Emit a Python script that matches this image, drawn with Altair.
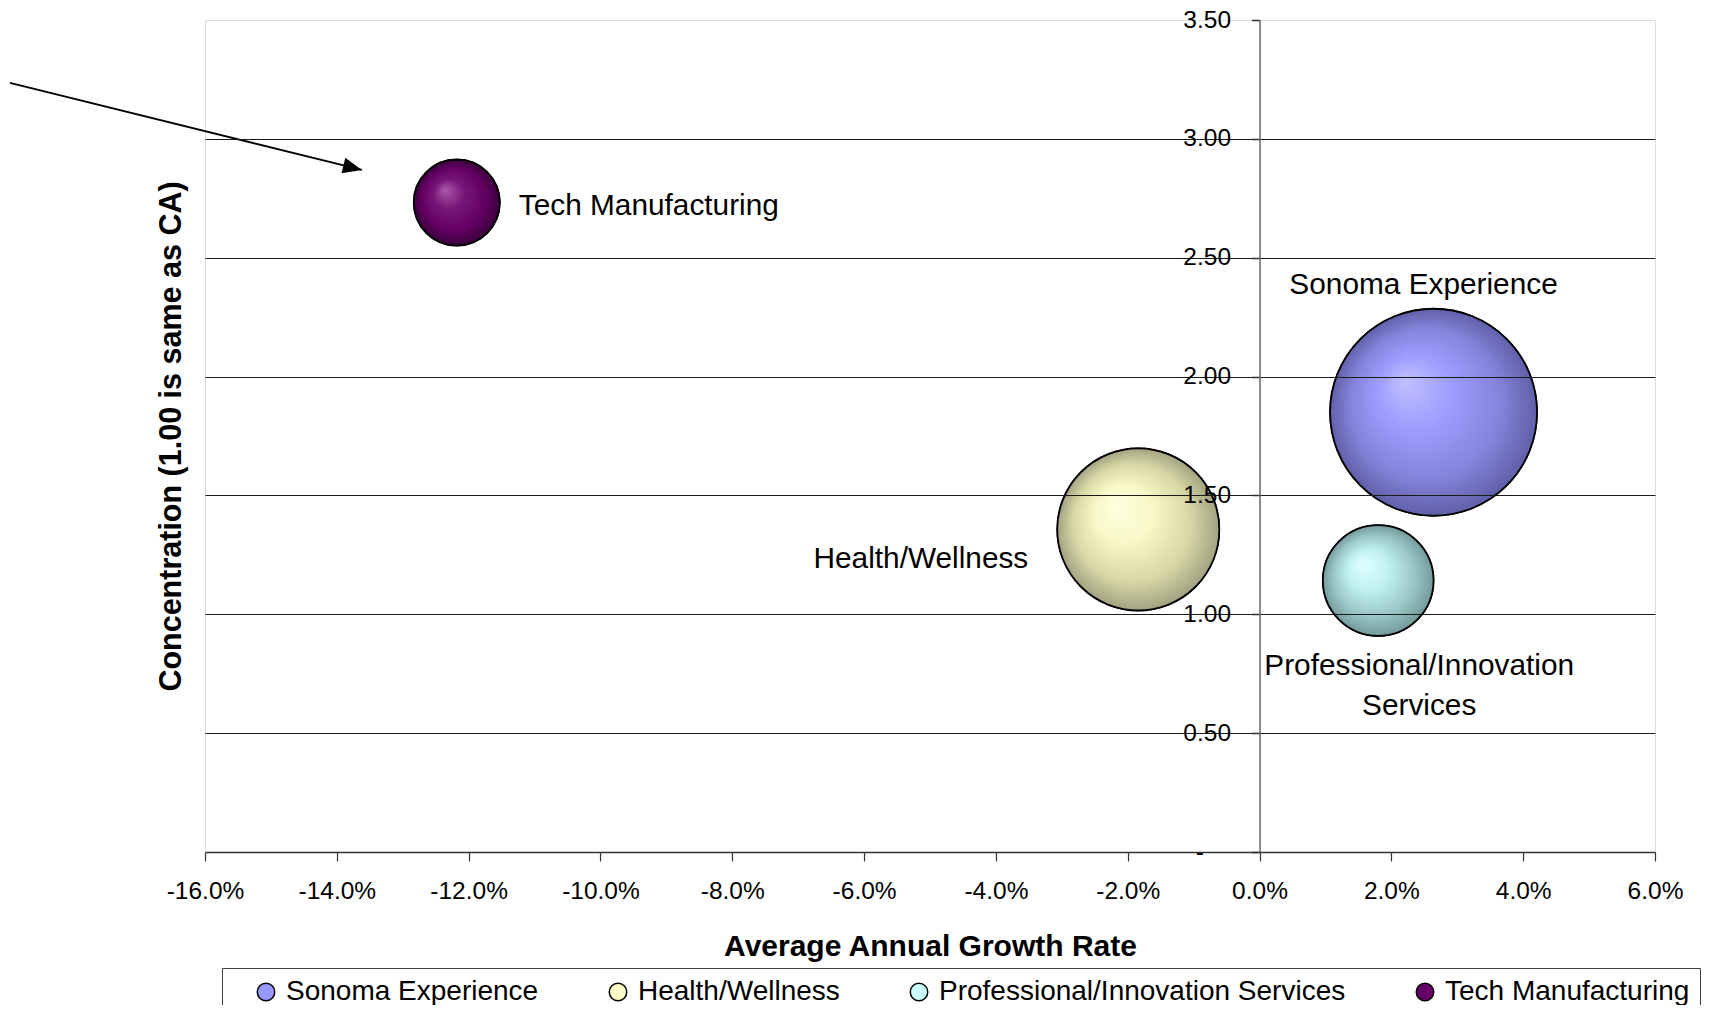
import altair as alt
import pandas as pd

# ---------------- data ----------------
clusters = ["Sonoma Experience", "Health/Wellness",
            "Professional/Innovation Services", "Tech Manufacturing"]
growth = [0.0264, -0.0184, 0.0180, -0.1218]          # average annual growth rate
concentration = [1.850, 1.357, 1.142, 2.732]         # 1.00 = same as CA
bubble_size = [100.0, 61.3, 28.6, 17.3]              # relative bubble size
point_labels = ["Sonoma Experience", "Health/Wellness",
                "Professional/Innovation\nServices", "Tech Manufacturing"]
colors = ["#9999FF", "#FFFFCC", "#CCFFFF", "#660066"]

x_ticks = [-0.16, -0.14, -0.12, -0.10, -0.08, -0.06, -0.04, -0.02, 0.0, 0.02, 0.04, 0.06]
y_ticks = [0.0, 0.5, 1.0, 1.5, 2.0, 2.5, 3.0, 3.5]

# annotation arrow (start -> tip), in data units
arrow_start_growth = [-0.1896]
arrow_start_conc = [3.236]
arrow_end_growth = [-0.1362]
arrow_end_conc = [2.869]

df = pd.DataFrame({"cluster": clusters, "growth": growth, "conc": concentration,
                   "size": bubble_size, "label": point_labels})
arrow_df = pd.DataFrame({"growth": arrow_start_growth, "conc": arrow_start_conc,
                         "growth2": arrow_end_growth, "conc2": arrow_end_conc})
tip_df = pd.DataFrame({"growth": arrow_end_growth, "conc": arrow_end_conc})

FONT = "Liberation Sans"
W, H = 1450, 832
zero_px = 16 / 22 * W

xaxis = alt.Axis(
    values=x_ticks,
    labelExpr="(datum.value < -0.0001 ? '-' : '') + format(abs(datum.value), '.1%')",
    labelFlush=False, labelOverlap=False, grid=False,
    domainColor="#333333", domainWidth=1.5,
    tickColor="#333333", tickSize=9, tickWidth=1.2,
    labelFont=FONT, labelFontSize=24.5, labelColor="black", labelPadding=18,
    title="Average Annual Growth Rate", titleFont=FONT, titleFontSize=30,
    titleFontWeight="bold", titleColor="black", titlePadding=29,
)
yaxis = alt.Axis(
    values=y_ticks, orient="left", offset=-zero_px,
    labelExpr="datum.value == 0 ? '-\u00a0\u00a0\u00a0\u00a0\u200b' : format(datum.value, '.2f')",
    labelFont=FONT, labelFontSize=24.5, labelColor="black", labelPadding=21,
    labelOverlap=False,
    tickColor="#333333", tickSize=8, tickWidth=1.5,
    domainColor="#666666", domainWidth=1.5,
    grid=True, gridColor="#1a1a1a", gridWidth=1,
    gridOpacity=alt.condition("datum.value <= 0 || datum.value >= 3.5", alt.value(0), alt.value(1)),
    title="Concentration (1.00 is same as CA)", titleFont=FONT, titleFontSize=30.5,
    titleFontWeight="bold", titleColor="black",
    titleX=-zero_px - 34, titleY=H / 2, titleAngle=270,
    titleBaseline="middle", titleAlign="center",
    zindex=1,
)
xs = alt.Scale(domain=[-0.16, 0.06], nice=False, zero=False)
ys = alt.Scale(domain=[0, 3.5], nice=False, zero=False)
X = alt.X("growth:Q", scale=xs, axis=xaxis)
Y = alt.Y("conc:Q", scale=ys, axis=yaxis)
S = alt.Size("size:Q", scale=alt.Scale(domain=[0, 100], range=[0, 42850]), legend=None)

legend = alt.Legend(
    orient="none", legendX=17, legendY=948, direction="horizontal",
    title="\u00a0", titleOrient="left", titleFontSize=10, titlePadding=20,
    padding=10, strokeColor="#404040", fillColor="white",
    labelFont=FONT, labelFontSize=28, labelColor="black", labelOffset=6,
    labelLimit=1000,
    symbolType="circle", symbolSize=306, symbolStrokeColor="black",
    symbolStrokeWidth=1.5, symbolOpacity=1, columnPadding=65,
)

base = alt.Chart(df).mark_circle(opacity=1, stroke="black", strokeWidth=1.5).encode(
    x=X, y=Y, size=S,
    color=alt.Color("cluster:N", scale=alt.Scale(domain=clusters, range=colors),
                    sort=clusters, legend=legend),
)

gradients = {
    "Sonoma Experience": ["#c0c0ff", "#9e9eff", "#8484dc", "#6060a8"],
    "Health/Wellness": ["#ffffe0", "#f8f8c8", "#d8d8a6", "#a2a282"],
    "Professional/Innovation Services": ["#e0ffff", "#c2f2f2", "#9ac8c8", "#749a9a"],
    "Tech Manufacturing": ["#a85aa8", "#781678", "#640064", "#3c003c"],
}
stop_pos = [0.0, 0.35, 0.72, 1.0]
grad_layers = []
for name in clusters:
    g = alt.RadialGradient(
        gradient="radial", x1=0.36, y1=0.35, r1=0.0, x2=0.5, y2=0.5, r2=0.5,
        stops=[alt.GradientStop(offset=o, color=c) for o, c in zip(stop_pos, gradients[name])],
    )
    grad_layers.append(
        alt.Chart(df).transform_filter(alt.datum.cluster == name)
        .mark_circle(fill=g, opacity=1, stroke="black", strokeWidth=1.8)
        .encode(x=X, y=Y, size=S)
    )

text_style = dict(font=FONT, fontSize=29.8, color="black", lineBreak="\n", lineHeight=40)
label_specs = [
    ("Sonoma Experience", dict(align="center", baseline="middle", dx=-10, dy=-127)),
    ("Health/Wellness", dict(align="right", baseline="middle", dx=-110, dy=30)),
    ("Professional/Innovation Services", dict(align="center", baseline="middle", dx=41, dy=85)),
    ("Tech Manufacturing", dict(align="left", baseline="middle", dx=62, dy=3)),
]
text_layers = [
    alt.Chart(df).transform_filter(alt.datum.cluster == name)
    .mark_text(**text_style, **opts).encode(x=X, y=Y, text="label:N")
    for name, opts in label_specs
]

arrow_line = alt.Chart(arrow_df).mark_rule(color="black", strokeWidth=1.8, clip=False).encode(
    x=X, y=Y, x2="growth2:Q", y2="conc2:Q")
arrow_head = alt.Chart(tip_df).mark_point(
    shape="M0,0L-1,-0.42L-1,0.42Z", size=1444, angle=13.9, filled=True,
    fill="black", opacity=1, strokeWidth=0, clip=False).encode(x=X, y=Y)

chart = alt.layer(base, *grad_layers, *text_layers, arrow_line, arrow_head).properties(
    width=W, height=H,
    padding={"left": 197, "top": 12, "right": 47, "bottom": 153},
    autosize=alt.AutoSizeParams(type="none"),
).configure_view(stroke="#8c8c8c", strokeWidth=2).configure(background="white")

chart.save("out.html", embed_options={"renderer": "svg", "actions": False})
